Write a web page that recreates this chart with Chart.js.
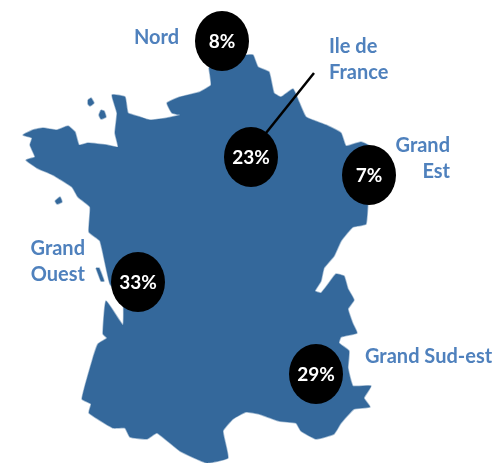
<!DOCTYPE html>
<html><head><meta charset="utf-8">
<style>html,body{margin:0;padding:0;background:#fff}canvas{display:block}</style>
<script src="https://cdn.jsdelivr.net/npm/chart.js@4"></script>
</head><body><canvas id="c" width="492" height="463"></canvas>
<script>
const regions=["Nord","Ile de France","Grand Est","Grand Ouest","Grand Sud-est"];
const shares=[8,23,7,33,29];
const bubbleX=[222,251,369,138,316];
const bubbleY=[41,157,175,282,374];
const calloutLine=[{x:266,y:133},{x:314,y:73}];
const labelLines=[["Nord"],["Ile de","France"],["Grand","Est"],["Grand","Ouest"],["Grand Sud-est"]];
const labelX=[134,329,450,85,365];
const labelY=[38,47,146,249,357];
const labelAlign=["left","left","right","right","left"];
const mainland=[[209,68],[225,50],[246,55],[253,55],[258,67],[269,72],[274,93],[281,97],[293,89],[299,102],[306,117],[326,125],[341,133],[346,146],[361,142],[371,147],[374,175],[368,203],[366,224],[353,227],[349,231],[341,241],[334,256],[324,268],[321,281],[315,291],[321,293],[329,283],[336,274],[344,276],[348,289],[354,300],[348,309],[353,324],[357,333],[341,337],[339,343],[349,351],[348,368],[353,386],[371,386],[364,398],[370,407],[354,409],[341,423],[334,434],[316,439],[301,431],[296,423],[279,421],[259,414],[246,412],[233,419],[223,431],[228,458],[207,463],[180,451],[157,433],[147,439],[130,437],[125,428],[113,428],[89,413],[91,404],[82,399],[93,358],[98,344],[107,338],[103,334],[106,301],[123,325],[123,300],[110,284],[100,241],[89,232],[90,207],[78,197],[72,187],[53,175],[37,168],[26,160],[35,157],[30,145],[32,138],[23,135],[33,130],[43,128],[57,130],[68,126],[75,132],[79,145],[88,143],[107,145],[118,147],[115,133],[117,113],[112,95],[125,97],[128,113],[140,117],[150,120],[167,118],[180,115],[172,113],[167,103],[180,97],[200,92],[211,85],[209,68]];
const islandA=[[88,100],[91,98],[94,103],[90,106],[88,104],[88,100]];
const islandB=[[101,110],[104,111],[106,117],[101,119],[99,115],[101,110]];
const islandC=[[55,201],[60,197],[62,202],[57,204],[55,201]];
const islandD=[[96,268],[99,268],[104,281],[101,281],[96,268]];
const toPts=a=>a.map(p=>({x:p[0],y:p[1]}));
const landColor="#34689b",edgeColor="rgba(52,104,155,0.45)";
const landSet=a=>({type:"scatter",data:toPts(a),showLine:true,fill:"shape",tension:0.12,
  backgroundColor:landColor,borderColor:edgeColor,borderWidth:1.5,pointRadius:0,pointHoverRadius:0,order:5});

const disc=document.createElement("canvas");disc.width=54;disc.height=60;
(function(){const g=disc.getContext("2d");g.fillStyle="#000";g.beginPath();g.ellipse(27,30,27,30,0,0,Math.PI*2);g.fill();})();

const textPlugin={id:"texts",afterDatasetsDraw(chart){
  const {ctx,scales:{x,y}}=chart;ctx.save();
  ctx.textBaseline="middle";
  ctx.font="bold 20px Lato";ctx.fillStyle="#4f81bd";
  labelLines.forEach((lines,i)=>{ctx.textAlign=labelAlign[i];
    lines.forEach((t,j)=>{ctx.fillText(t,x.getPixelForValue(labelX[i]),y.getPixelForValue(labelY[i]+j*25.5));});});
  ctx.font="bold 19px Lato";ctx.fillStyle="#fff";ctx.textAlign="center";
  shares.forEach((v,i)=>ctx.fillText(v+"%",x.getPixelForValue(bubbleX[i]),y.getPixelForValue(bubbleY[i]+1)));
  ctx.restore();}};

new Chart(document.getElementById("c"),{
  type:"scatter",
  data:{datasets:[
    landSet(mainland),landSet(islandA),landSet(islandB),landSet(islandC),landSet(islandD),
    {type:"scatter",data:calloutLine,showLine:true,borderColor:"#000",borderWidth:2.5,pointRadius:0,order:2},
    {type:"scatter",label:"Share",data:shares.map((v,i)=>({x:bubbleX[i],y:bubbleY[i]})),pointStyle:disc,pointRadius:30,order:1,backgroundColor:"#000"}
  ]},
  plugins:[textPlugin],
  options:{responsive:false,animation:false,events:[],
    layout:{padding:0,autoPadding:false},
    plugins:{legend:{display:false},tooltip:{enabled:false},title:{display:false}},
    scales:{x:{type:"linear",display:false,min:0,max:492},y:{type:"linear",display:false,min:0,max:463,reverse:true}}
  }
});
</script></body></html>
